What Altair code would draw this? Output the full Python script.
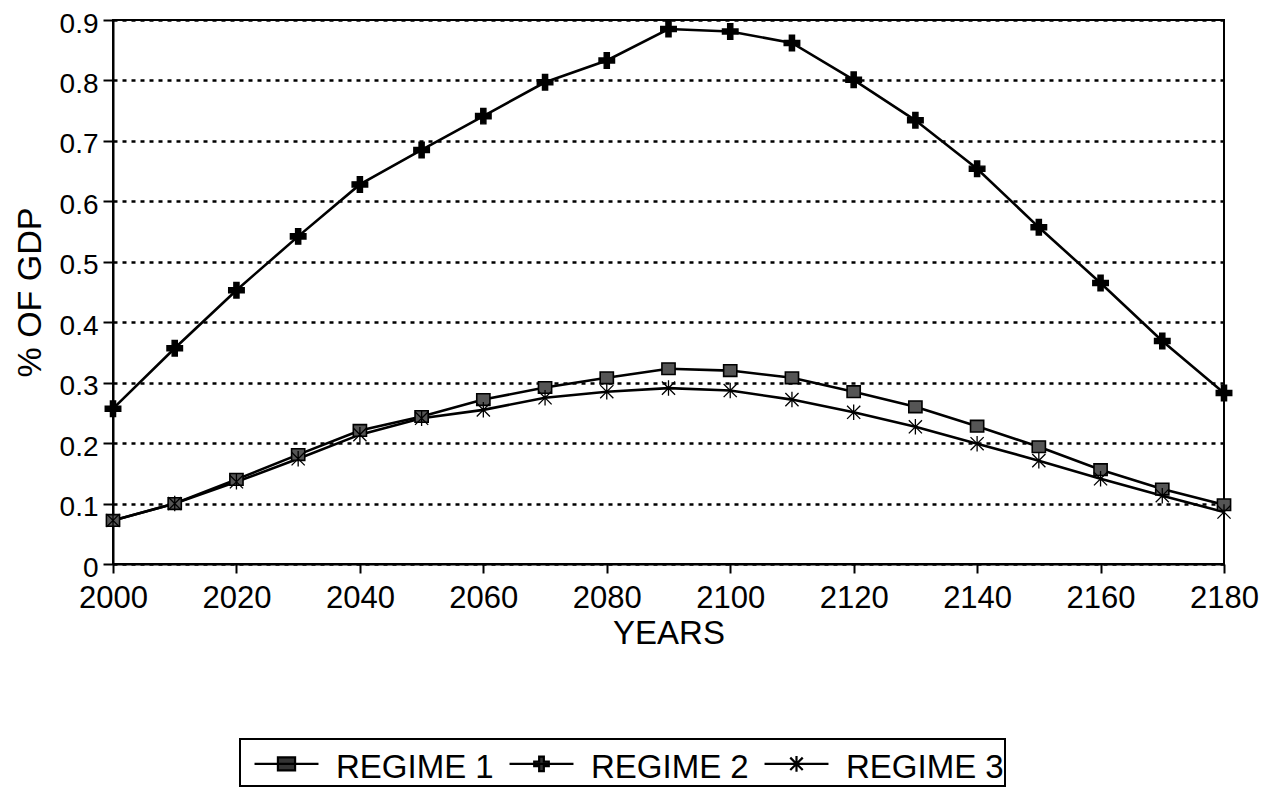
import altair as alt
import pandas as pd

years = [2000, 2010, 2020, 2030, 2040, 2050, 2060, 2070, 2080, 2090,
         2100, 2110, 2120, 2130, 2140, 2150, 2160, 2170, 2180]
regime1 = [0.072, 0.100, 0.140, 0.181, 0.221, 0.244, 0.272, 0.292, 0.308, 0.323,
           0.320, 0.308, 0.285, 0.260, 0.228, 0.194, 0.156, 0.124, 0.098]
regime2 = [0.257, 0.357, 0.453, 0.542, 0.628, 0.685, 0.741, 0.797, 0.833, 0.885,
           0.881, 0.862, 0.801, 0.734, 0.654, 0.557, 0.465, 0.369, 0.283]
regime3 = [0.072, 0.100, 0.136, 0.174, 0.214, 0.241, 0.255, 0.275, 0.285, 0.291,
           0.287, 0.272, 0.251, 0.227, 0.199, 0.171, 0.141, 0.113, 0.086]
regimes = ["REGIME 1", "REGIME 2", "REGIME 3"]
x_ticks = [2000, 2020, 2040, 2060, 2080, 2100, 2120, 2140, 2160, 2180]
y_ticks = [0, 0.1, 0.2, 0.3, 0.4, 0.5, 0.6, 0.7, 0.8, 0.9]

rows = []
for name, vals in zip(regimes, [regime1, regime2, regime3]):
    for yr, v in zip(years, vals):
        rows.append({"year": yr, "value": v, "regime": name})
df = pd.DataFrame(rows)

FONT = "Liberation Sans"

marker_paths = [
    "M-0.85,-0.75L0.85,-0.75L0.85,0.75L-0.85,0.75Z",
    "M-0.33,-1L0.33,-1L0.33,-0.33L1,-0.33L1,0.33L0.33,0.33L0.33,1L-0.33,1L-0.33,0.33L-1,0.33L-1,-0.33L-0.33,-0.33Z",
    "M-0.85,-0.85L0.85,0.85M-0.85,0.85L0.85,-0.85M0,-1L0,1",
]
legend_paths = [
    "M-1.23,-0.15L1.23,-0.15M-0.33,-0.4L0.33,-0.4L0.33,0.1L-0.33,0.1Z",
    "M-1.23,-0.15L1.23,-0.15M-0.09,-0.43L0.09,-0.43L0.09,-0.24L0.28,-0.24L0.28,-0.06L0.09,-0.06L0.09,0.13L-0.09,0.13L-0.09,-0.06L-0.28,-0.06L-0.28,-0.24L-0.09,-0.24Z",
    "M-1.23,-0.15L1.23,-0.15M-0.24,-0.39L0.24,0.09M-0.24,0.09L0.24,-0.39M0,-0.45L0,0.15",
]

x_enc = alt.X("year:Q",
              scale=alt.Scale(domain=[2000, 2180], nice=False, zero=False),
              axis=alt.Axis(values=x_ticks, format="d", title="YEARS", grid=False,
                            labelFontSize=31, titleFontSize=33, tickSize=9,
                            labelPadding=10, titlePadding=4, labelFlush=False))
y_enc = alt.Y("value:Q",
              scale=alt.Scale(domain=[0, 0.9], nice=False),
              axis=alt.Axis(values=y_ticks, format=".1~f", title="% OF GDP",
                            labelFontSize=28, titleFontSize=34, tickSize=10,
                            labelPadding=5, labelOffset=4, titlePadding=12,
                            grid=True, gridColor="black", gridDash=[4, 5],
                            gridWidth=2.5, labelFlush=False))

base = alt.Chart(df)

lines = base.mark_line(color="black", strokeWidth=2.6).encode(
    x=x_enc, y=y_enc, detail="regime:N"
)

points = base.mark_point(opacity=1, stroke="black", filled=False).encode(
    x="year:Q", y="value:Q",
    shape=alt.Shape("regime:N", scale=alt.Scale(domain=regimes, range=marker_paths), legend=None),
    fill=alt.Fill("regime:N", scale=alt.Scale(domain=regimes, range=["#555555", "black", "black"]), legend=None),
    strokeWidth=alt.StrokeWidth("regime:N", scale=alt.Scale(domain=regimes, range=[1.6, 1.3, 3.0]), legend=None),
    size=alt.Size("regime:N", scale=alt.Scale(domain=regimes, range=[240, 240, 300]), legend=None),
)

legend_layer = base.transform_filter("false").mark_point(
    opacity=1, filled=False, fill="#333333", stroke="black", strokeWidth=2.2
).encode(
    x="year:Q", y="value:Q",
    shape=alt.Shape("regime:N", scale=alt.Scale(domain=regimes, range=legend_paths),
                    legend=alt.Legend(title=None,
                                      orient="none", direction="horizontal",
                                      legendX=127, legendY=719,
                                      symbolSize=2704, symbolOffset=18,
                                      symbolStrokeWidth=2.2, symbolOpacity=1,
                                      labelFont=FONT, labelFontSize=33, labelColor="black",
                                      labelOffset=22, columnPadding=2,
                                      strokeColor="black", padding=1, labelLimit=400)),
)

chart = alt.layer(lines, points, legend_layer).resolve_scale(
    shape="independent"
).resolve_legend(shape="independent").properties(
    width=1111, height=544,
    autosize=alt.AutoSizeParams(type="none"),
    padding={"left": 105, "top": 12, "right": 40, "bottom": 233},
    background="white",
).configure_view(
    stroke="black", strokeWidth=2
).configure_axis(
    domainColor="black", domainWidth=2, tickColor="black", tickWidth=2,
    labelColor="black", titleColor="black", labelFont=FONT, titleFont=FONT,
    titleFontWeight="normal"
).configure_legend(
    strokeWidth=2
)

chart.save("out.html", embed_options={"renderer": "svg", "actions": False})
